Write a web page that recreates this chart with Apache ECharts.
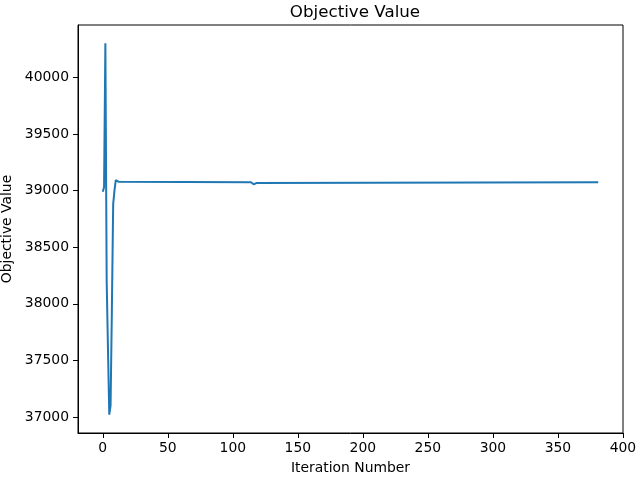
<!DOCTYPE html>
<html>
<head>
<meta charset="utf-8">
<script src="https://cdn.jsdelivr.net/npm/echarts@6/dist/echarts.min.js"></script>
<style>
  html, body { margin: 0; padding: 0; background: #fff; }
  #chart { width: 640px; height: 480px; }
</style>
</head>
<body>
<div id="chart"></div>
<script>
// iteration numbers where the curve changes, and the objective value there
const iterations = [0, 1, 2, 3, 4, 5, 6, 7, 8, 9, 10, 11, 12, 13, 114, 115, 116, 117, 118, 119, 381]
const objective = [38990, 39030, 40300, 38200, 37600, 37020, 37100, 37950, 38880, 39000, 39092, 39085, 39078, 39074, 39074, 39068, 39055, 39050, 39066, 39074, 39074]
const xTicks = [0, 50, 100, 150, 200, 250, 300, 350, 400]
const yTicks = [37000, 37500, 38000, 38500, 39000, 39500, 40000]

const font = 'DejaVu Sans'
let seriesData = []
for (let i = 0; i < iterations.length; i++) {
    seriesData.push([iterations[i], objective[i]])
}

let myChart = echarts.init(document.getElementById('chart'), null, { renderer: 'canvas' })
let option = {
    animation: false,
    title: {
        text: 'Objective Value',
        left: 350,
        textAlign: 'center',
        top: -1,
        textStyle: { fontFamily: font, fontSize: 16.7, fontWeight: 'normal', color: '#000' }
    },
    grid: {
        left: 78, right: 17, top: 25, bottom: 47,
        outerBoundsMode: 'none',
        containLabel: false,
        show: true, borderColor: '#000', borderWidth: 1
    },
    xAxis: {
        type: 'value',
        min: -19.05,
        max: 400.05,
        name: 'Iteration Number',
        nameLocation: 'middle',
        nameGap: 28,
        nameMoveOverlap: false,
        nameTextStyle: { fontFamily: font, fontSize: 13.9, color: '#000' },
        splitLine: { show: false },
        axisLine: { show: true, onZero: false, lineStyle: { color: '#000', width: 1 } },
        axisTick: { show: true, inside: false, length: 5, customValues: xTicks, lineStyle: { color: '#000' } },
        axisLabel: { customValues: xTicks, margin: 8, fontFamily: font, fontSize: 13.9, color: '#000',
            formatter: v => String(v) }
    },
    yAxis: {
        type: 'value',
        min: 36858.6,
        max: 40462,
        name: 'Objective Value',
        nameLocation: 'middle',
        nameGap: 64,
        nameMoveOverlap: false,
        nameTextStyle: { fontFamily: font, fontSize: 13.9, color: '#000' },
        splitLine: { show: false },
        axisLine: { show: true, onZero: false, lineStyle: { color: '#000', width: 1 } },
        axisTick: { show: true, inside: false, length: 5, customValues: yTicks, lineStyle: { color: '#000' } },
        axisLabel: { customValues: yTicks, margin: 9, fontFamily: font, fontSize: 13.9, color: '#000',
            formatter: v => String(v) }
    },
    series: [{
        type: 'line',
        data: seriesData,
        showSymbol: false,
        lineStyle: { color: '#1f77b4', width: 2 },
        clip: true
    }]
}
myChart.setOption(option)
</script>
</body>
</html>
